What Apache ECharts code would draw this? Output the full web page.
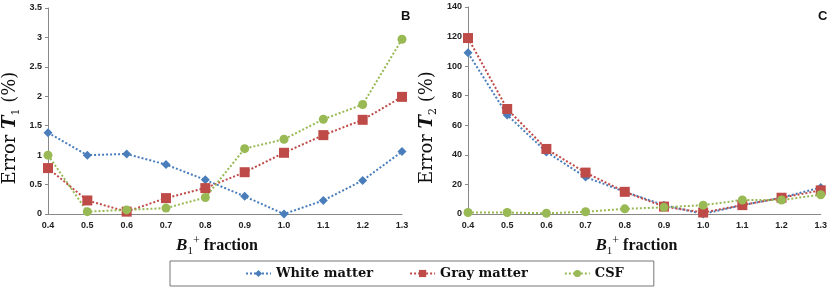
<!DOCTYPE html>
<html><head><meta charset="utf-8">
<script src="https://cdn.jsdelivr.net/npm/echarts@6/dist/echarts.min.js"></script>
<style>html,body{margin:0;padding:0;background:#fff}#c{width:830px;height:295px}</style>
</head><body><div id="c"></div>
<script>
const categories = ['0.4','0.5','0.6','0.7','0.8','0.9','1.0','1.1','1.2','1.3'];
const t1White = [1.38, 1.0, 1.02, 0.84, 0.58, 0.30, 0.0, 0.23, 0.57, 1.06];
const t1Gray  = [0.78, 0.23, 0.04, 0.27, 0.44, 0.71, 1.04, 1.34, 1.60, 1.99];
const t1CSF   = [1.00, 0.04, 0.07, 0.10, 0.28, 1.11, 1.27, 1.61, 1.86, 2.97];
const t2White = [109, 67, 42, 25, 15, 6, 0, 6, 11, 18];
const t2Gray  = [119, 71, 44, 28, 15, 5, 1, 6, 11, 16];
const t2CSF   = [1, 1, 0.5, 1.5, 3.5, 4.5, 6, 9.5, 9.5, 13];
const t1Ticks = {min: 0, max: 3.5, interval: 0.5};
const t2Ticks = {min: 0, max: 140, interval: 20};

const colors = {white: '#4a7ebb', gray: '#be4b48', csf: '#98b954'};
const serif = '"Liberation Serif", "DejaVu Serif", serif';
const dserif = '"DejaVu Serif", "Liberation Serif", serif';
const labelStyle = {fontSize: 9, fontWeight: 'bold', color: '#222', fontFamily: '"Liberation Sans", Arial, sans-serif'};
const axisLine = {show: true, lineStyle: {color: '#888', width: 1}};

function xAxis(gi) {
  return {
    type: 'category', gridIndex: gi, data: categories, boundaryGap: false,
    axisLine: axisLine, axisTick: {show: false},
    axisLabel: Object.assign({margin: 7}, labelStyle),
    name: '{i|B}{sub|1}{sup|+}{r| fraction}', nameLocation: 'middle', nameGap: 21,
    nameTextStyle: {padding: [0, 16, 0, 0], rich: {
      i: {fontFamily: serif, fontStyle: 'italic', fontSize: 17, color: '#111', fontWeight: 'bold'},
      sub: {fontFamily: serif, fontSize: 11, color: '#111', verticalAlign: 'bottom', lineHeight: 22, padding: [8,0,0,0]},
      sup: {fontFamily: serif, fontSize: 12, color: '#111', verticalAlign: 'top', lineHeight: 22, padding: [0,0,8,0]},
      r: {fontFamily: serif, fontSize: 16, color: '#111', fontWeight: 'bold'}
    }}
  };
}
function yAxis(gi, t, sub, gap) {
  return {
    type: 'value', gridIndex: gi, min: t.min, max: t.max, interval: t.interval,
    axisLine: axisLine, axisTick: {show: true, length: 3, lineStyle: {color: '#888'}},
    splitLine: {show: false},
    axisLabel: Object.assign({margin: 6}, labelStyle),
    name: '{b|Error }{i|T}{s|' + sub + '}{n| (%)}', nameLocation: 'middle', nameGap: gap, nameRotate: 90,
    nameTextStyle: {padding: [0, 34, 0, 0], rich: {
      b: {fontFamily: dserif, fontSize: 18, color: '#111'},
      i: {fontFamily: dserif, fontSize: 18, fontStyle: 'italic', fontWeight: 'bold', color: '#111'},
      s: {fontFamily: dserif, fontSize: 11, color: '#111', verticalAlign: 'bottom', lineHeight: 24, padding: [8,0,0,0]},
      n: {fontFamily: dserif, fontSize: 18, color: '#111'}
    }}
  };
}
function line(name, data, gi, color, symbol, size) {
  return {
    name: name, type: 'line', xAxisIndex: gi, yAxisIndex: gi, data: data,
    symbol: symbol, symbolSize: size, color: color,
    itemStyle: {color: color},
    lineStyle: {color: color, type: 'dotted', width: 2},
    z: 3
  };
}

const chart = echarts.init(document.getElementById('c'), null, {renderer: 'canvas'});
chart.setOption({
  animation: false,
  backgroundColor: '#fff',
  grid: [
    {left: 44, right: 428, top: 8, bottom: 81},
    {left: 468, right: 7, top: 7, bottom: 81}
  ],
  xAxis: [xAxis(0), xAxis(1)],
  yAxis: [yAxis(0, t1Ticks, '1', 26), yAxis(1, t2Ticks, '2', 29)],
  title: [
    {text: 'B', left: 396, top: 5, textStyle: {fontSize: 13, fontWeight: 'bold', color: '#111', fontFamily: '"Liberation Sans", Arial, sans-serif'}},
    {text: 'C', left: 813, top: 5, textStyle: {fontSize: 13, fontWeight: 'bold', color: '#111', fontFamily: '"Liberation Sans", Arial, sans-serif'}}
  ],
  legend: {
    data: ['White matter', 'Gray matter', 'CSF'],
    left: 170, top: 261,
    borderColor: '#777', borderWidth: 1,
    padding: [6, 30, 6, 75],
    itemGap: 36, itemWidth: 25, itemHeight: 9,
    textStyle: {fontFamily: dserif, fontSize: 13, fontWeight: 'bold', color: '#111'}
  },
  series: [
    line('White matter', t1White, 0, colors.white, 'diamond', 9),
    line('Gray matter', t1Gray, 0, colors.gray, 'rect', 10),
    line('CSF', t1CSF, 0, colors.csf, 'circle', 9),
    line('White matter', t2White, 1, colors.white, 'diamond', 9),
    line('Gray matter', t2Gray, 1, colors.gray, 'rect', 10),
    line('CSF', t2CSF, 1, colors.csf, 'circle', 9)
  ]
});
</script>
</body></html>
